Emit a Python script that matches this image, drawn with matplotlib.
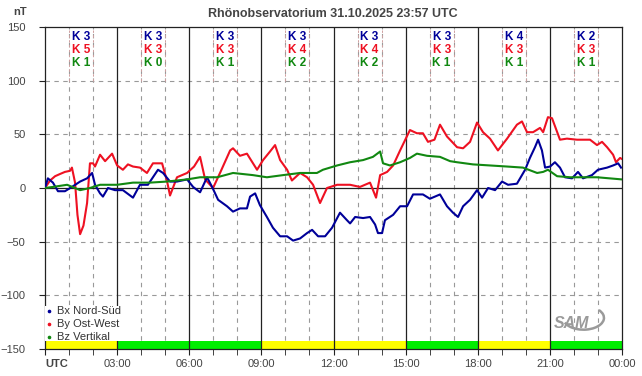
import matplotlib
matplotlib.use("Agg")
import matplotlib.pyplot as plt
from matplotlib.patches import Rectangle, Arc

plt.rcParams['font.family'] = ['Liberation Sans', 'DejaVu Sans']

# --- data ---
title = "Rhönobservatorium 31.10.2025 23:57 UTC"

bx_h = [0, 0.12, 0.33, 0.54, 0.83, 1.12, 1.46, 1.75, 1.96, 2.08, 2.29, 2.41, 2.62, 2.91, 3.24, 3.66,
        3.95, 4.28, 4.70, 4.91, 5.20, 5.49, 5.91, 6.16, 6.45, 6.74, 6.95, 7.20, 7.57, 7.82, 8.11,
        8.40, 8.53, 8.74, 8.94, 9.23, 9.48, 9.78, 10.07, 10.32, 10.61, 10.90, 11.11, 11.36, 11.65,
        11.94, 12.27, 12.56, 12.69, 12.90, 13.23, 13.52, 13.73, 13.85, 14.02, 14.14, 14.48, 14.77,
        15.06, 15.31, 15.72, 16.01, 16.43, 16.72, 16.97, 17.18, 17.39, 17.68, 17.97, 18.18, 18.43,
        18.72, 19.01, 19.26, 19.63, 19.97, 20.17, 20.38, 20.51, 20.67, 20.80, 21.01, 21.21, 21.42,
        21.63, 21.92, 22.17, 22.38, 22.75, 23.0, 23.38, 23.63, 23.84, 23.96]
bx_v = [0, 9, 5, -3, -3, 1, 6, 9, 14, 3, -5, -8, 0, -2, -2, -9,
        3, 3, 17, 14, 6, 6, 8, 1, -4, 10, 1, -11, -17, -22, -19,
        -19, -8, -5, -16, -27, -37, -45, -45, -49, -47, -42, -39, -45, -45,
        -37, -23, -30, -33, -27, -28, -27, -34, -42, -42, -30, -25, -17,
        -17, -6, -6, -10, -6, -17, -23, -27, -17, -11, -2, -9, 0,
        -2, 6, 3, 4, 17, 28, 38, 45, 35, 19, 20, 24, 19,
        10, 9, 15, 9, 12, 17, 19, 21, 23, 19]

by_h = [0, 0.21, 0.42, 0.62, 0.83, 1.04, 1.12, 1.25, 1.35, 1.46, 1.6, 1.75, 1.87, 2.0, 2.08, 2.29,
        2.5, 2.79, 3.0, 3.24, 3.45, 3.66, 3.95, 4.24, 4.49, 4.87, 5.07, 5.20, 5.49, 5.91, 6.2,
        6.45, 6.66, 6.99, 7.28, 7.70, 7.82, 8.11, 8.40, 8.82, 9.07, 9.36, 9.57, 9.78, 10.07,
        10.27, 10.61, 10.90, 11.15, 11.44, 11.73, 12.15, 12.69, 13.10, 13.52, 13.77, 13.94,
        14.23, 14.48, 14.77, 15.18, 15.47, 15.72, 15.93, 16.2, 16.43, 16.72, 17.14, 17.39,
        17.68, 17.97, 18.22, 18.51, 18.84, 19.22, 19.63, 19.84, 20.05, 20.30, 20.59, 20.72,
        20.92, 21.09, 21.42, 21.71, 22.13, 22.67, 22.96, 23.17, 23.38, 23.63, 23.75, 23.92, 24.0]
by_v = [0, 7, 11, 13, 15, 16, 19, 5, -25, -43, -35, -14, 23, 23, 20, 31,
        25, 32, 21, 17, 22, 20, 19, 14, 23, 23, 7, -7, 10, 14, 20,
        29, 8, 0, 14, 35, 37, 30, 32, 17, 26, 34, 40, 26, 17,
        7, 14, 10, 3, -14, 0, 3, 3, 1, 5, -9, 12,
        15, 21, 35, 54, 51, 51, 43, 45, 59, 48, 38, 37,
        43, 61, 52, 46, 35, 46, 59, 62, 52, 52, 56, 52,
        66, 65, 45, 46, 45, 45, 40, 43, 38, 31, 24, 28, 27]

bz_h = [0, 0.33, 0.92, 1.46, 1.87, 2.29, 3.0, 3.66, 4.36, 5.07, 5.91, 6.45, 7.16, 7.82, 8.65,
        9.23, 9.90, 10.61, 11.31, 11.56, 12.15, 12.69, 13.23, 13.64, 13.94, 14.06, 14.35,
        14.77, 15.18, 15.47, 15.89, 16.43, 16.85, 17.14, 17.80, 18.51, 19.22, 19.88, 20.47,
        20.72, 20.92, 21.30, 21.84, 22.96, 24.0]
bz_v = [0, 1, 3, -2, 0, 3, 3, 5, 5, 6, 8, 10, 10, 14, 12,
        10, 12, 14, 14, 17, 21, 24, 26, 29, 34, 23, 21,
        24, 28, 32, 30, 29, 25, 24, 22, 21, 20, 19, 14,
        15, 17, 11, 10, 10, 8]

k_bx = [3, 3, 3, 3, 3, 3, 4, 2]
k_by = [5, 3, 3, 4, 4, 3, 3, 3]
k_bz = [1, 0, 1, 2, 2, 1, 1, 1]

bar_start = [0, 3, 9, 15, 18, 21]
bar_end = [3, 9, 15, 18, 21, 24]
bar_color = ['#ffff00', '#00ee00', '#ffff00', '#00ee00', '#ffff00', '#00ee00']

x_labels = ["UTC", "03:00", "06:00", "09:00", "12:00", "15:00", "18:00", "21:00", "00:00"]

c_bx = '#000099'
c_by = '#ee1122'
c_bz = '#118811'
grey = '#444444'

fig = plt.figure(figsize=(6.42, 3.76), dpi=100)
ax = fig.add_axes([45 / 642, 1 - 349 / 376, 577 / 642, 322 / 376])
ax.set_xlim(0, 24)
ax.set_ylim(-150, 150)

# grid
for h in range(1, 24):
    if h % 3:
        ax.axvline(h, color='#999999', lw=0.8, ls=(0, (4, 4)), zorder=1)
for h in range(3, 24, 3):
    ax.axvline(h, color='#222222', lw=0.9, zorder=3)
for v in [-100, -50, 50, 100]:
    ax.axhline(v, color='#999999', lw=0.8, ls=(0, (4, 4)), zorder=1)
ax.axhline(0, color='#222222', lw=0.9, zorder=3)

# bottom status bar
for s, e, c in zip(bar_start, bar_end, bar_color):
    ax.add_patch(Rectangle((s, -150), e - s, 7.5, color=c, lw=0, zorder=2))

# series
ax.plot(by_h, by_v, color=c_by, lw=1.5, zorder=4)
ax.plot(bx_h, bx_v, color=c_bx, lw=1.5, zorder=5)
ax.plot(bz_h, bz_v, color=c_bz, lw=1.5, zorder=6)

# K indices
for i in range(8):
    xc = i * 3 + 1.5
    for dx in (-0.5, 0.5):
        ax.plot([xc + dx, xc + dx], [100, 147], color='#d0a0a0', lw=0.7,
                ls=(0, (2.5, 2.5)), zorder=3)
    ax.text(xc, 141, f"K {k_bx[i]}", color=c_bx, ha='center', va='center',
            fontsize=8.5, fontweight='bold', zorder=7)
    ax.text(xc, 129, f"K {k_by[i]}", color=c_by, ha='center', va='center',
            fontsize=8.5, fontweight='bold', zorder=7)
    ax.text(xc, 116.5, f"K {k_bz[i]}", color=c_bz, ha='center', va='center',
            fontsize=8.5, fontweight='bold', zorder=7)

# legend (white box hides the grid behind it)
ax.add_patch(Rectangle((0.02, -142.5), 3.05, 33, color='white', lw=0, zorder=3.5))
leg = [("Bx Nord-Süd", c_bx), ("By Ost-West", c_by), ("Bz Vertikal", c_bz)]
for j, (name, c) in enumerate(leg):
    yv = -115 - j * 12
    ax.plot([0.17], [yv], marker='o', ms=1.6, color=c, zorder=7)
    ax.text(0.5, yv, name, color='#333333', fontsize=8, va='center', ha='left', zorder=7)

# logo
ax.text(21.9, -126, "SAM", color='#9a9a9a', fontsize=11.5, fontstyle='italic',
        fontweight='bold', ha='center', va='center', zorder=7)
ax.add_patch(Arc((22.4, -121), 1.7, 22, theta1=-100, theta2=85, color='#9a9a9a', lw=1.8, zorder=7))

# axes styling
for sp in ax.spines.values():
    sp.set_color('#222222')
    sp.set_linewidth(0.9)
ax.set_xticks(range(0, 25, 3))
ax.set_xticks(range(0, 25), minor=True)
ax.set_xticklabels(x_labels)
ax.set_yticks(range(-150, 151, 50))
ax.tick_params(axis='both', which='both', direction='out', colors='#222222',
               labelcolor=grey, labelsize=8)
ax.tick_params(axis='x', which='major', length=4, pad=3)
ax.tick_params(axis='x', which='minor', length=4)
ax.tick_params(axis='y', length=4, pad=10)
lbls = ax.get_xticklabels()
lbls[0].set_fontweight('bold')
lbls[0].set_horizontalalignment('left')

fig.text(333 / 642, 1 - 14 / 376, title, ha='center', va='center',
         fontsize=9, fontweight='bold', color=grey)
fig.text(20 / 642, 1 - 12 / 376, "nT", ha='center', va='center',
         fontsize=8, fontweight='bold', color=grey)

fig.savefig("out.png", dpi=100, facecolor='white')
